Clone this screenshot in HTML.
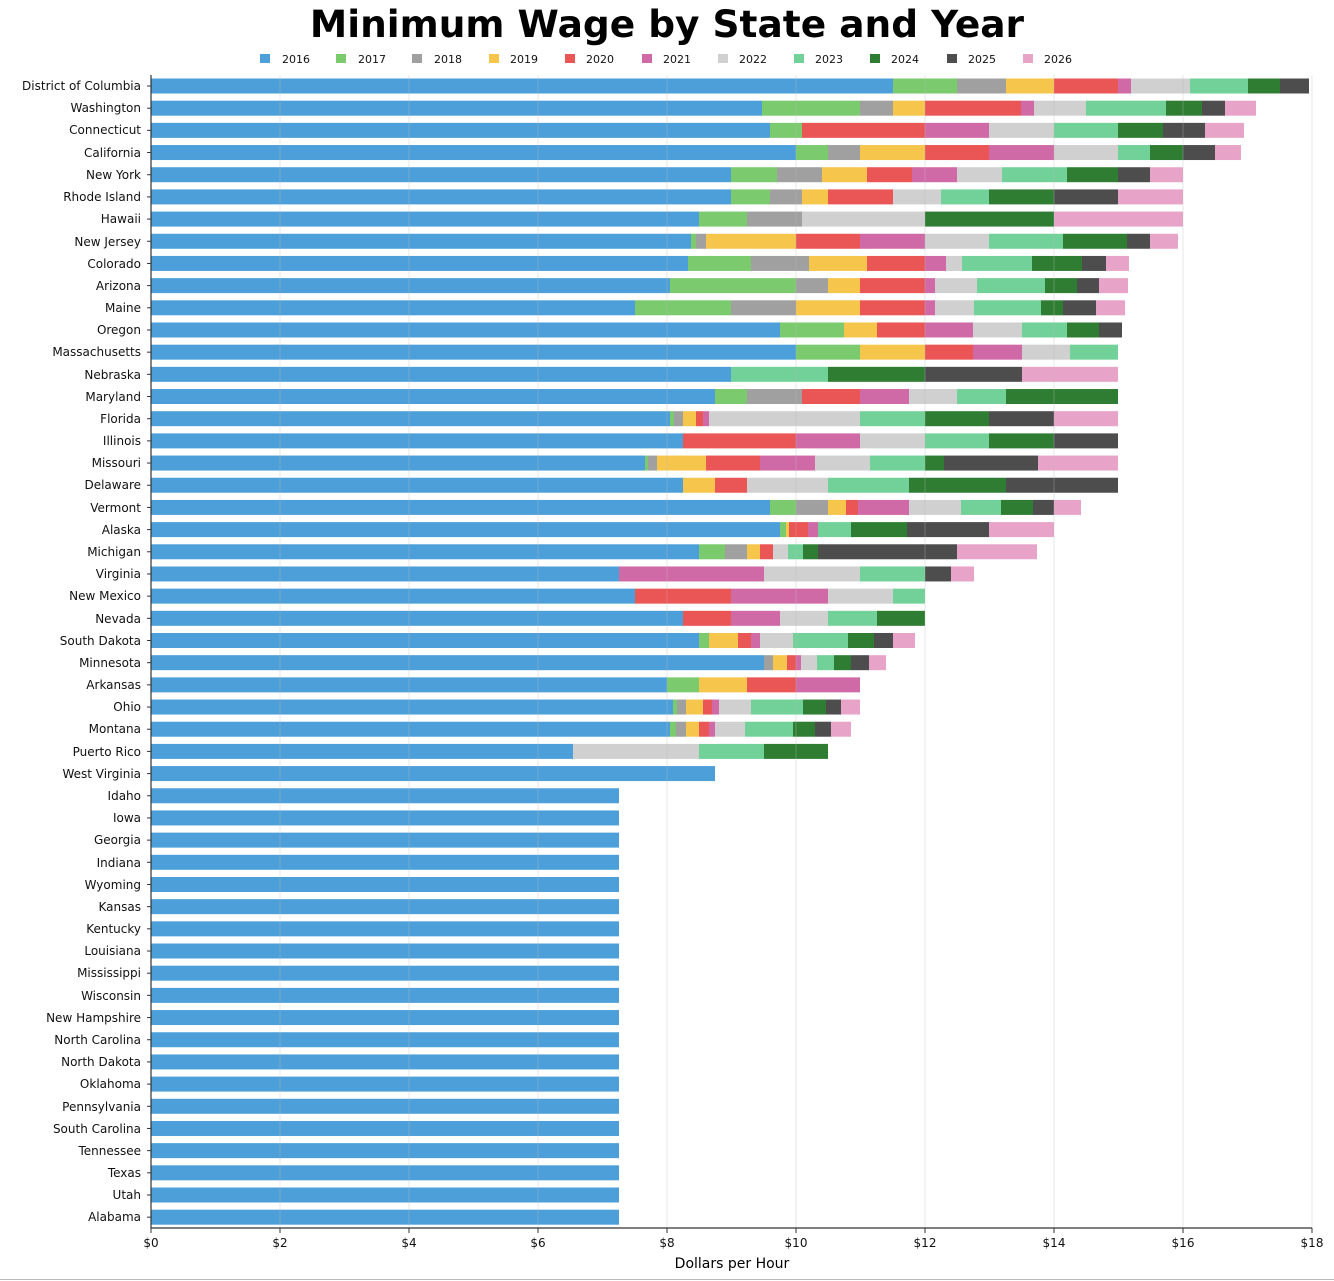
<!DOCTYPE html>
<html><head><meta charset="utf-8"><style>
body{margin:0;background:#fff;}
svg{display:block;font-family:"DejaVu Sans","Liberation Sans",sans-serif;}
</style></head><body>
<svg id="s" width="1334" height="1281" viewBox="0 0 1334 1281" xmlns="http://www.w3.org/2000/svg">
<rect width="1334" height="1281" fill="#fff"/>
<text x="667" y="37" text-anchor="middle" font-size="37.5" font-weight="bold" fill="#000">Minimum Wage by State and Year</text>
<g id="bars"></g>
<g id="grid" stroke="#bbb" stroke-width="1" opacity="0.35"></g>
<line x1="151" y1="75" x2="151" y2="1228" stroke="#333" stroke-width="1.2"/>
<line x1="151" y1="1228" x2="1312" y2="1228" stroke="#333" stroke-width="1.2"/>
<g id="ticks" stroke="#333"></g>
<text x="732" y="1268" text-anchor="middle" font-size="14" fill="#000">Dollars per Hour</text>
<line x1="0" y1="1279.5" x2="1334" y2="1279.5" stroke="#bbb"/>
<g font-size="12" text-anchor="end" fill="#111">
<text x="141" y="90">District of Columbia</text><text x="141" y="112">Washington</text><text x="141" y="134">Connecticut</text><text x="141" y="157">California</text><text x="141" y="179">New York</text><text x="141" y="201">Rhode Island</text><text x="141" y="223">Hawaii</text><text x="141" y="246">New Jersey</text><text x="141" y="268">Colorado</text><text x="141" y="290">Arizona</text><text x="141" y="312">Maine</text><text x="141" y="334">Oregon</text><text x="141" y="356">Massachusetts</text><text x="141" y="379">Nebraska</text><text x="141" y="401">Maryland</text><text x="141" y="423">Florida</text><text x="141" y="445">Illinois</text><text x="141" y="467">Missouri</text><text x="141" y="489">Delaware</text><text x="141" y="512">Vermont</text><text x="141" y="534">Alaska</text><text x="141" y="556">Michigan</text><text x="141" y="578">Virginia</text><text x="141" y="600">New Mexico</text><text x="141" y="623">Nevada</text><text x="141" y="645">South Dakota</text><text x="141" y="667">Minnesota</text><text x="141" y="689">Arkansas</text><text x="141" y="711">Ohio</text><text x="141" y="733">Montana</text><text x="141" y="756">Puerto Rico</text><text x="141" y="778">West Virginia</text><text x="141" y="800">Idaho</text><text x="141" y="822">Iowa</text><text x="141" y="844">Georgia</text><text x="141" y="867">Indiana</text><text x="141" y="889">Wyoming</text><text x="141" y="911">Kansas</text><text x="141" y="933">Kentucky</text><text x="141" y="955">Louisiana</text><text x="141" y="977">Mississippi</text><text x="141" y="1000">Wisconsin</text><text x="141" y="1022">New Hampshire</text><text x="141" y="1044">North Carolina</text><text x="141" y="1066">North Dakota</text><text x="141" y="1088">Oklahoma</text><text x="141" y="1111">Pennsylvania</text><text x="141" y="1133">South Carolina</text><text x="141" y="1155">Tennessee</text><text x="141" y="1177">Texas</text><text x="141" y="1199">Utah</text><text x="141" y="1221">Alabama</text>
</g>
<g font-size="12" text-anchor="middle" fill="#111">
<text x="151" y="1247">$0</text><text x="280" y="1247">$2</text><text x="409" y="1247">$4</text><text x="538" y="1247">$6</text><text x="667" y="1247">$8</text><text x="796" y="1247">$10</text><text x="925" y="1247">$12</text><text x="1054" y="1247">$14</text><text x="1183" y="1247">$16</text><text x="1312" y="1247">$18</text>
</g>
<g font-size="11" fill="#111">
<rect x="260" y="54" width="10" height="9" fill="#4c9fd9"/><text x="282" y="63">2016</text>
<rect x="336" y="54" width="10" height="9" fill="#7cca6e"/><text x="358" y="63">2017</text>
<rect x="412" y="54" width="10" height="9" fill="#a0a0a0"/><text x="434" y="63">2018</text>
<rect x="489" y="54" width="10" height="9" fill="#f5c64b"/><text x="510" y="63">2019</text>
<rect x="565" y="54" width="10" height="9" fill="#ea5556"/><text x="586" y="63">2020</text>
<rect x="642" y="54" width="10" height="9" fill="#d06aa6"/><text x="663" y="63">2021</text>
<rect x="718" y="54" width="10" height="9" fill="#d0d0d0"/><text x="739" y="63">2022</text>
<rect x="794" y="54" width="10" height="9" fill="#72d198"/><text x="815" y="63">2023</text>
<rect x="870" y="54" width="10" height="9" fill="#2e7d32"/><text x="891" y="63">2024</text>
<rect x="947" y="54" width="10" height="9" fill="#4d4d4d"/><text x="968" y="63">2025</text>
<rect x="1023" y="54" width="10" height="9" fill="#e8a4c8"/><text x="1044" y="63">2026</text>
</g>
</svg>
<script>
var C={b:"#4c9fd9",g:"#7cca6e",r:"#a0a0a0",y:"#f5c64b",R:"#ea5556",p:"#d06aa6",l:"#d0d0d0",m:"#72d198",d:"#2e7d32",k:"#4d4d4d",P:"#e8a4c8"};
var rows=[
"b893 g957 r1006 y1054 R1118 p1131 l1190 m1248 d1280 k1309",
"b762 g860 r893 y925 R1021 p1034 l1086 m1166 d1202 k1225 P1256",
"b770 g802 R925 p989 l1054 m1118 d1163 k1205 P1244",
"b796 g828 r860 y925 R989 p1054 l1118 m1150 d1183 k1215 P1241",
"b731 g777 r822 y867 R912 p957 l1002 m1067 d1118 k1150 P1183",
"b731 g770 r802 y828 R893 l941 m989 d1054 k1118 P1183",
"b699 g747 r802 l925 d1054 P1183",
"b691 g696 r706 y796 R860 p925 l989 m1063 d1127 k1150 P1178",
"b688 g751 r809 y867 R925 p946 l962 m1032 d1082 k1106 P1129",
"b670 g796 r828 y860 R925 p935 l977 m1045 d1077 k1099 P1128",
"b635 g731 r796 y860 R925 p935 l974 m1041 d1063 k1096 P1125",
"b780 g844 y877 R925 p973 l1022 m1067 d1099 k1122",
"b796 g860 y925 R973 p1022 l1070 m1118",
"b731 m828 d925 k1022 P1118",
"b715 g747 r802 R860 p909 l957 m1006 d1118",
"b670 g674 r683 y696 R703 p709 l860 m925 d989 k1054 P1118",
"b683 R796 p860 l925 m989 d1054 k1118",
"b645 g648 r657 y706 R760 p815 l870 m925 d944 k1038 P1118",
"b683 y715 R747 l828 m909 d1006 k1118",
"b770 g796 r828 y846 R858 p909 l961 m1001 d1033 k1054 P1081",
"b780 g786 y789 R808 p818 m851 d907 k989 P1054",
"b699 g725 r747 y760 R773 l788 m803 d818 k957 P1037",
"b619 p764 l860 m925 k951 P974",
"b635 R731 p828 l893 m925",
"b683 R731 p780 l828 m877 d925",
"b699 g709 y738 R751 p760 l793 m848 d874 k893 P915",
"b764 r773 y787 R796 p801 l817 m834 d851 k869 P886",
"b667 g699 y747 R796 p860",
"b673 g677 r686 y703 R712 p719 l751 m803 d826 k841 P860",
"b670 g676 r686 y699 R709 p715 l745 m793 d815 k831 P851",
"b573 l699 m764 d828",
"b715"];
while(rows.length<52)rows.push("b619");
var ns="http://www.w3.org/2000/svg",g=document.getElementById("bars"),tk=document.getElementById("ticks");
function ln(p,a,b,c,d){var l=document.createElementNS(ns,"line");l.setAttribute("x1",a);l.setAttribute("y1",b);l.setAttribute("x2",c);l.setAttribute("y2",d);p.appendChild(l);}
rows.forEach(function(s,i){var cy=86+i*22.18,x=151;s.split(" ").forEach(function(t){var e=+t.slice(1),r=document.createElementNS(ns,"rect");r.setAttribute("x",x);r.setAttribute("y",cy-7.5);r.setAttribute("width",Math.max(0,e-x));r.setAttribute("height",15);r.setAttribute("fill",C[t[0]]);g.appendChild(r);x=e;});ln(tk,147,cy,151,cy);});
var gr=document.getElementById("grid");
for(var k=0;k<=9;k++){var x=151+129*k;if(k>0)ln(gr,x,75,x,1228);ln(tk,x,1228,x,1233);}
</script>
</body></html>
